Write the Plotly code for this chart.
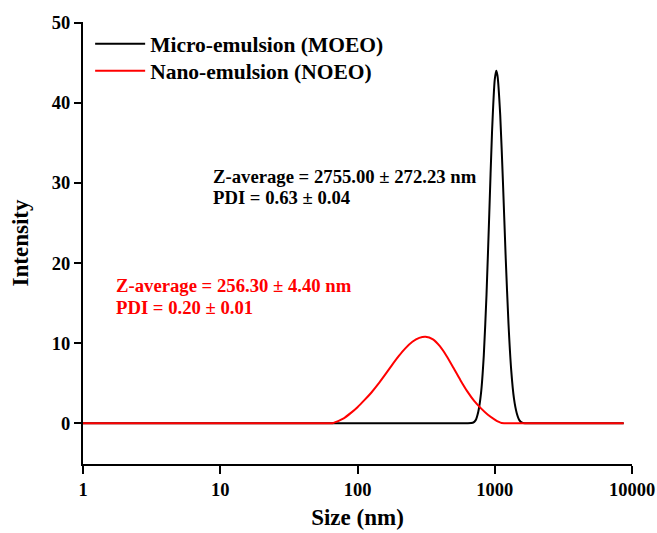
import plotly.graph_objects as go

# ---- data ----
moeo_size = [1, 10, 100, 500, 600, 631, 691.8, 724.4, 758.6, 794.3, 831.8, 871, 912, 955,
             1000, 1026, 1047, 1096, 1148, 1202, 1259, 1318, 1380, 1445, 1514, 1585, 1660,
             1800, 3000, 8700]
moeo_int = [0, 0, 0, 0, 0, 0, 0.05, 0.35, 1.43, 3.74, 8.40, 16.06, 26.1, 36.3,
            42.9, 44.0, 43.4, 38.5, 30.0, 20.6, 12.45, 6.62, 3.09, 1.28, 0.35, 0.05, 0,
            0, 0, 0]

noeo_size = [1, 10, 40, 60, 66, 70.8, 79.4, 89.1, 100, 112.2, 125.9, 141.3, 158.5, 177.8,
             199.5, 223.9, 251.2, 281.8, 313, 354.8, 398.1, 446.7, 501.2, 562.3, 631,
             707.9, 794.3, 891.3, 1000, 1072, 1122, 1175, 1300, 2000, 5000, 8700]
noeo_int = [0, 0, 0, 0, 0, 0.2, 0.6, 1.25, 2.0, 2.87, 3.80, 4.87, 6.03, 7.22,
            8.36, 9.37, 10.16, 10.65, 10.8, 10.47, 9.61, 8.36, 6.88, 5.37, 3.97,
            2.78, 1.85, 1.05, 0.45, 0.15, 0.02, 0, 0, 0, 0, 0]

series_names = ["Micro-emulsion (MOEO)", "Nano-emulsion (NOEO)"]
x_tickvals = [1, 10, 100, 1000, 10000]
x_ticktext = ["1", "10", "100", "1000", "10000"]
y_tickvals = [0, 10, 20, 30, 40, 50]

FONT = "Liberation Serif, Times New Roman, serif"
LEG_FONT = dict(family=FONT, size=21.5, color="black", weight="bold")

fig = go.Figure()
fig.add_trace(go.Scatter(x=moeo_size, y=moeo_int, mode="lines", name=series_names[0],
                         legend="legend",
                         line=dict(color="black", width=2, shape="spline", smoothing=0.6)))
fig.add_trace(go.Scatter(x=noeo_size, y=noeo_int, mode="lines", name=series_names[1],
                         legend="legend2",
                         line=dict(color="red", width=2, shape="spline", smoothing=0.6)))

fig.update_layout(
    width=657, height=533,
    margin=dict(l=83, r=25, t=22, b=69, autoexpand=False),
    paper_bgcolor="white", plot_bgcolor="white",
    font=dict(family=FONT, color="black"),
    showlegend=True,
    legend=dict(x=0.013, y=0.997, xanchor="left", yanchor="top",
                bgcolor="rgba(0,0,0,0)", borderwidth=0, font=LEG_FONT, itemwidth=50),
    legend2=dict(x=0.013, y=0.936, xanchor="left", yanchor="top",
                 bgcolor="rgba(0,0,0,0)", borderwidth=0, font=LEG_FONT, itemwidth=50),
    xaxis=dict(type="log", range=[0, 4], tickvals=x_tickvals, ticktext=x_ticktext,
               automargin=False,
               showgrid=False, zeroline=False, showline=True, linecolor="black", linewidth=2,
               ticks="outside", ticklen=8, tickwidth=2, tickcolor="black",
               tickfont=dict(family=FONT, size=18.5, color="black", weight="bold"),
               title=dict(text="<b>Size (nm)</b>", font=dict(family=FONT, size=23, color="black"),
                          standoff=10)),
    yaxis=dict(range=[-5.1, 50.1], tickvals=y_tickvals, automargin=False,
               showgrid=False, zeroline=False, showline=True, linecolor="black", linewidth=2,
               ticks="outside", ticklen=7, tickwidth=2, tickcolor="black",
               tickfont=dict(family=FONT, size=18.5, color="black", weight="bold"),
               title=dict(text="<b>Intensity</b>", font=dict(family=FONT, size=23, color="black"),
                          standoff=17)),
)

ann = [
    ("Z-average = 2755.00 ± 272.23 nm", 0.234, 30.8, "black"),
    ("PDI = 0.63 ± 0.04", 0.234, 28.2, "black"),
    ("Z-average = 256.30 ± 4.40 nm", 0.057, 17.2, "red"),
    ("PDI = 0.20 ± 0.01", 0.057, 14.4, "red"),
]
for text, xp, yv, col in ann:
    fig.add_annotation(x=xp, xref="paper", y=yv, yref="y", text="<b>" + text + "</b>",
                       showarrow=False, xanchor="left", yanchor="middle",
                       font=dict(family=FONT, size=18.7, color=col))

fig.write_html("out.html")
